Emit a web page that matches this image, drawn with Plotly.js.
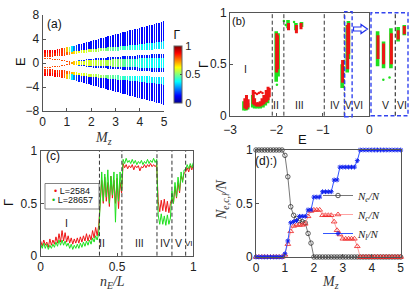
<!DOCTYPE html>
<html><head><meta charset="utf-8">
<script src="https://cdn.plot.ly/plotly-3.0.1.min.js"></script>
<style>html,body{margin:0;padding:0;background:#fff}#plot{width:416px;height:291px}</style>
</head><body><div id="plot"></div>
<script>
// ================= DATA =================
// Panel (a): spectrum vs Mz, band edges and Gamma per column
const Mz = [0,0.1,0.2,0.3,0.4,0.5,0.6,0.7,0.8,0.9,1,1.1,1.2,1.3,1.4,1.5,1.6,1.7,1.8,1.9,2,2.1,2.2,2.3,2.4,2.5,2.6,2.7,2.8,2.9,3,3.1,3.2,3.3,3.4,3.5,3.6,3.7,3.8,3.9,4,4.1,4.2,4.3,4.4,4.5,4.6,4.7,4.8,4.9,5];
const eTop = [2.10,2.11,2.13,2.16,2.20,2.25,2.30,2.37,2.45,2.53,2.62,2.71,2.81,2.91,3.01,3.12,3.22,3.33,3.44,3.55,3.66,3.77,3.88,3.99,4.10,4.21,4.32,4.43,4.54,4.65,4.76,4.87,4.98,5.09,5.20,5.31,5.42,5.53,5.64,5.75,5.86,5.97,6.08,6.19,6.30,6.41,6.52,6.63,6.74,6.85,6.96];
const eSplit = [1.60,1.60,1.61,1.62,1.63,1.65,1.67,1.69,1.71,1.73,1.76,1.82,1.90,1.96,2.01,2.06,2.11,2.16,2.21,2.26,2.31,2.35,2.39,2.43,2.47,2.51,2.55,2.59,2.63,2.67,2.71,2.75,2.79,2.83,2.87,2.91,2.95,2.99,3.03,3.07,3.11,3.16,3.21,3.26,3.31,3.36,3.41,3.46,3.51,3.56,3.61];
const eBot = [1.05,1.05,1.06,1.07,1.08,1.10,1.12,1.15,1.19,1.24,1.30,1.36,1.42,1.48,1.54,1.60,1.65,1.70,1.74,1.77,1.80,1.83,1.86,1.89,1.92,1.95,1.97,1.99,2.01,2.03,2.05,2.07,2.09,2.11,2.13,2.14,2.15,2.16,2.17,2.18,2.20,2.21,2.22,2.23,2.24,2.25,2.26,2.27,2.28,2.29,2.30];
const gOuter = [0.88,0.88,0.88,0.88,0.88,0.88,0.88,0.86,0.83,0.78,0.68,0.52,0.36,0.25,0.19,0.15,0.14,0.13,0.14,0.13,0.14,0.13,0.14,0.13,0.14,0.13,0.14,0.13,0.14,0.13,0.14,0.13,0.14,0.13,0.14,0.13,0.14,0.13,0.14,0.13,0.14,0.13,0.14,0.13,0.14,0.13,0.14,0.13,0.14,0.13,0.14];
const gInner = [0.84,0.84,0.84,0.84,0.84,0.84,0.84,0.83,0.82,0.81,0.78,0.74,0.70,0.66,0.63,0.61,0.60,0.59,0.58,0.58,0.57,0.56,0.55,0.54,0.53,0.52,0.50,0.49,0.48,0.47,0.46,0.45,0.44,0.43,0.42,0.41,0.40,0.39,0.39,0.38,0.38,0.37,0.37,0.36,0.36,0.36,0.35,0.35,0.35,0.35,0.35];
const mHalf = [0,0,0,0,0,0,0,0,0,0,0,0.10,0.20,0.30,0.38,0.45,0.52,0.58,0.63,0.68,0.72,0.75,0.78,0.81,0.84,0.87,0.90,0.93,0.96,0.99,1.02,1.05,1.07,1.10,1.13,1.15,1.18,1.21,1.23,1.26,1.29,1.31,1.34,1.37,1.39,1.42,1.45,1.47,1.50,1.52,1.55];
const mCore = [0,0,0,0,0,0,0,0,0,0,0,0.10,0.20,0.28,0.33,0.36,0.38,0.40,0.42,0.44,0.46,0.47,0.49,0.50,0.52,0.53,0.55,0.56,0.58,0.59,0.61,0.62,0.64,0.65,0.67,0.68,0.70,0.71,0.73,0.74,0.76,0.77,0.79,0.80,0.82,0.83,0.85,0.86,0.88,0.89,0.91];
const gMid = [0,0,0,0,0,0,0,0,0,0,0,0.78,0.72,0.68,0.65,0.63,0.60,0.60,0.59,0.59,0.58,0.58,0.57,0.57,0.56,0.56,0.55,0.55,0.54,0.53,0.52,0.51,0.50,0.48,0.46,0.45,0.44,0.43,0.42,0.41,0.40,0.40,0.39,0.39,0.38,0.38,0.38,0.37,0.37,0.37,0.37];
const gMidEdge = [0,0,0,0,0,0,0,0,0,0,0,0.75,0.60,0.45,0.30,0.22,0.15,0.15,0.15,0.15,0.15,0.15,0.15,0.15,0.15,0.15,0.15,0.15,0.15,0.15,0.15,0.15,0.15,0.15,0.15,0.15,0.15,0.15,0.15,0.15,0.15,0.15,0.15,0.15,0.15,0.15,0.15,0.15,0.15,0.15,0.15];
const thinE = [0.75,0.73,0.71,0.68,0.65,0.61,0.57,0.52,0.46,0.39,0.30,0.20,null,null,null,null,null,null,null,null,null,null,null,null,null,null,null,null,null,null,null,null,null,null,null,null,null,null,null,null,null,null,null,null,null,null,null,null,null,null,null];

// Panel (b): Gamma vs E, vertical clusters (E, low, high)
const bRedE  = [-2.68,-2.645,-2.61,-2.50,-2.47,-2.43,-2.39,-2.35,-2.31,-2.27,-2.22,-2.18,-2.155,-1.995,-1.975,-1.74,-1.57,-1.47,-0.575,-0.465,-0.445];
const bRedLo = [0.07,0.06,0.08,0.11,0.10,0.09,0.09,0.09,0.10,0.11,0.13,0.15,0.18,0.42,0.45,0.83,0.80,0.84,0.32,0.45,0.60];
const bRedHi = [0.17,0.20,0.16,0.25,0.17,0.13,0.13,0.14,0.17,0.20,0.25,0.28,0.27,0.80,0.78,0.90,0.88,0.90,0.54,0.88,0.90];
const bGrnE  = [-2.70,-2.66,-2.62,-2.51,-2.47,-2.41,-2.35,-2.29,-2.24,-2.19,-2.005,-1.965,-1.75,-1.58,-1.46,-0.585,-0.475,-0.45];
const bGrnLo = [0.05,0.05,0.06,0.08,0.07,0.07,0.07,0.08,0.10,0.12,0.33,0.38,0.85,0.83,0.86,0.27,0.42,0.55];
const bGrnHi = [0.14,0.16,0.12,0.20,0.12,0.10,0.11,0.14,0.19,0.23,0.82,0.80,0.93,0.90,0.91,0.50,0.88,0.92];
const bRedDotE = [-2.46,-2.42,-2.38,-2.34,-2.30];
const bRedDotG = [0.22,0.21,0.22,0.23,0.22];
const bGrnDotE = [-1.99,-1.84,-1.80,-1.62];
const bGrnDotG = [0.30,0.92,0.88,0.91];
const bDash = [-2.09,-1.84,-0.97,-0.54];
// inset of (b)
const iRedE  = [-0.496,-0.469,-0.431,-0.398,-0.368];
const iRedLo = [0.55,0.50,0.50,0.74,0.79];
const iRedHi = [0.78,0.70,0.80,0.83,0.87];
const iGrnE  = [-0.498,-0.469,-0.433,-0.398,-0.368];
const iGrnLo = [0.48,0.46,0.46,0.72,0.78];
const iGrnHi = [0.82,0.72,0.85,0.86,0.88];
const iGrnDotE = [-0.47,-0.44];
const iGrnDotG = [0.35,0.37];
const iDash = [-0.412];

// Panel (c): Gamma vs n_E/L
const nE = [0,0.01,0.02,0.03,0.04,0.05,0.06,0.07,0.08,0.09,0.1,0.11,0.12,0.13,0.14,0.15,0.16,0.17,0.18,0.19,0.2,0.21,0.22,0.23,0.24,0.25,0.26,0.27,0.28,0.29,0.3,0.31,0.32,0.33,0.34,0.35,0.36,0.37,0.38,0.39,0.4,0.41,0.42,0.43,0.44,0.45,0.46,0.47,0.48,0.49,0.5,0.51,0.52,0.53,0.54,0.55,0.56,0.57,0.58,0.59,0.6,0.61,0.62,0.63,0.64,0.65,0.66,0.67,0.68,0.69,0.7,0.71,0.72,0.73,0.74,0.75,0.76,0.77,0.78,0.79,0.8,0.81,0.82,0.83,0.84,0.85,0.86,0.87,0.88,0.89,0.9,0.91,0.92,0.93,0.94,0.95,0.96,0.97,0.98,0.99,1];
const cRed = [0.14,0.09,0.15,0.10,0.13,0.08,0.16,0.10,0.15,0.11,
0.18,0.12,0.21,0.13,0.24,0.14,0.22,0.13,0.19,0.12,
0.17,0.11,0.16,0.12,0.17,0.12,0.18,0.13,0.19,0.14,
0.21,0.14,0.20,0.15,0.24,0.17,0.27,0.19,0.29,
0.48,0.72,0.50,0.75,0.52,0.70,0.47,0.76,0.55,0.72,0.50,0.74,0.45,0.70,0.60,
0.88,0.84,0.87,0.83,0.86,0.84,0.87,0.82,0.86,0.84,0.86,0.81,0.85,0.84,0.87,0.84,0.87,0.85,0.88,0.85,0.87,0.85,0.87,
0.52,0.42,0.53,0.43,0.54,0.42,0.52,0.41,0.50,
0.55,0.50,0.66,0.55,0.70,0.60,0.76,0.72,0.79,
0.80,0.84,0.80,0.86,0.82,0.87];
const cGreen = [0.11,0.07,0.12,0.07,0.11,0.06,0.10,0.07,0.11,0.08,
0.13,0.09,0.15,0.10,0.15,0.10,0.14,0.09,0.12,0.07,
0.11,0.06,0.10,0.07,0.11,0.07,0.12,0.08,0.13,0.09,
0.14,0.10,0.15,0.11,0.17,0.13,0.19,0.15,0.21,
0.55,0.80,0.52,0.78,0.56,0.82,0.50,0.76,0.58,0.80,0.32,0.78,0.52,0.80,0.62,
0.92,0.88,0.93,0.89,0.91,0.88,0.92,0.88,0.91,0.87,0.90,0.88,0.91,0.87,0.90,0.88,0.92,0.88,0.91,0.89,0.93,0.89,0.92,
0.39,0.30,0.40,0.30,0.38,0.29,0.39,0.30,0.36,
0.62,0.50,0.70,0.56,0.75,0.62,0.80,0.70,0.82,
0.82,0.87,0.83,0.88,0.84,0.89];
const cDash = [0.385,0.532,0.762,0.86,0.95];

// Panel (d): fractions vs Mz
const Ne = [1,1,1,1,1,1,1,1,1,1,0.95,0.75,0.47,0.39,0.36,0.34,0.33,0.32,0.22,0.13,0,0,0,0,0,0,0,0,0,0,0,0,0,0,0,0,0,0,0,0,0,0,0,0,0,0,0,0,0,0,0];
const Nc = [0,0,0,0,0,0,0,0,0,0,0.02,0.12,0.24,0.29,0.30,0.30,0.30,0.31,0.38,0.43,0.44,0.44,0.44,0.39,0.39,0.39,0.39,0.33,0.25,0.21,0.17,0.17,0.17,0.17,0.17,0.10,0,0,0,0,0,0,0,0,0,0,0,0,0,0,0];
const Nl = [0,0,0,0,0,0,0,0,0,0,0.03,0.15,0.32,0.33,0.34,0.38,0.38,0.38,0.44,0.44,0.56,0.56,0.56,0.61,0.61,0.61,0.61,0.72,0.72,0.84,0.84,0.84,0.84,0.84,0.84,0.90,1,1,1,1,1,1,1,1,1,1,1,1,1,1,1];

// ================= BUILD =================
const W = 416, H = 291;
const px = v => v / W, py = v => 1 - v / H;
const SANS = 'Liberation Sans, Arial, sans-serif';
const SERIF = 'Liberation Serif, Times New Roman, serif';
const jet = [[0,'rgb(0,0,143)'],[0.125,'rgb(0,0,255)'],[0.375,'rgb(0,255,255)'],[0.625,'rgb(255,255,0)'],[0.875,'rgb(255,0,0)'],[1,'rgb(128,0,0)']];

const traces = [];
function bars(base, height, color) {
  traces.push({type:'bar', x:Mz, y:height, base:base, width:0.062, xaxis:'x', yaxis:'y',
    marker:{color:color, coloraxis:'coloraxis', line:{width:0}}, showlegend:false, hoverinfo:'skip'});
}
const hOut = eTop.map((t,i)=>t-eSplit[i]);
const hIn = eSplit.map((s,i)=>s-eBot[i]);
bars(eSplit, hOut, gOuter);
bars(eBot, hIn, gInner);
bars(eTop.map(v=>-v), hOut, gOuter);
bars(eSplit.map(v=>-v), hIn, gInner);
bars(mHalf.map(v=>-v), mHalf.map(v=>2*v), gMidEdge);
bars(mCore.map(v=>-v), mCore.map(v=>2*v), gMid);
const thinG = thinE.map(v=> v===null?null:0.8);
bars(thinE.map(v=> v===null?null:v-0.09), thinE.map(v=> v===null?null:0.18), thinG);
bars(thinE.map(v=> v===null?null:-v-0.09), thinE.map(v=> v===null?null:0.18), thinG);

function segs(E, lo, hi) {
  const x=[], y=[];
  E.forEach((e,i)=>{ x.push(e,e,null); y.push(lo[i],hi[i],null); });
  return {x, y};
}
const GREEN = '#1ee01e', RED = '#ee1515';
function segTrace(s, color, w, xa, ya) {
  traces.push({type:'scatter', mode:'lines', x:s.x, y:s.y, xaxis:xa, yaxis:ya,
    line:{color:color, width:w}, connectgaps:false, showlegend:false, hoverinfo:'skip'});
}
function dotTrace(x, y, color, xa, ya) {
  traces.push({type:'scatter', mode:'markers', x:x, y:y, xaxis:xa, yaxis:ya,
    marker:{color:color, size:2.5}, showlegend:false, hoverinfo:'skip'});
}
segTrace(segs(bGrnE,bGrnLo,bGrnHi), GREEN, 3.6, 'x2','y2');
dotTrace(bGrnDotE, bGrnDotG, GREEN, 'x2','y2');
segTrace(segs(bRedE,bRedLo,bRedHi), RED, 3.0, 'x2','y2');
dotTrace(bRedDotE, bRedDotG, RED, 'x2','y2');
segTrace(segs(iGrnE,iGrnLo,iGrnHi), GREEN, 3.6, 'x3','y3');
dotTrace(iGrnDotE, iGrnDotG, GREEN, 'x3','y3');
segTrace(segs(iRedE,iRedLo,iRedHi), RED, 3.0, 'x3','y3');

traces.push({type:'scatter', mode:'lines', x:nE, y:cRed, xaxis:'x4', yaxis:'y4',
  line:{color:RED, width:1}, showlegend:false, hoverinfo:'skip'});
traces.push({type:'scatter', mode:'lines', x:nE, y:cGreen, xaxis:'x4', yaxis:'y4',
  line:{color:GREEN, width:1}, showlegend:false, hoverinfo:'skip'});

traces.push({type:'scatter', mode:'lines+markers', x:Mz, y:Ne, xaxis:'x5', yaxis:'y5', cliponaxis:false,
  name:'<i>N</i><sub><i>e</i></sub><i>/N</i>',
  line:{color:'#555', width:0.8}, marker:{symbol:'circle-open', size:4.5, color:'#333', line:{width:0.8}}});
traces.push({type:'scatter', mode:'lines+markers', x:Mz, y:Nc, xaxis:'x5', yaxis:'y5', cliponaxis:false,
  name:'<i>N</i><sub><i>c</i></sub><i>/N</i>',
  line:{color:'#ff8a8a', width:0.8}, marker:{symbol:'triangle-up-open', size:5, color:'#ee2222', line:{width:0.8}}});
traces.push({type:'scatter', mode:'lines+markers', x:Mz, y:Nl, xaxis:'x5', yaxis:'y5', cliponaxis:false,
  name:'<i>N</i><sub><i>l</i></sub><i>/N</i>',
  line:{color:'#3355ff', width:1}, marker:{symbol:'asterisk-open', size:4, color:'#1122ee', line:{width:1}}});

const AX = {showline:true, linecolor:'#555', linewidth:1, ticks:'inside', ticklen:3, tickcolor:'#555',
  showgrid:false, zeroline:false, tickfont:{family:SANS, size:12, color:'#222'}, fixedrange:true};

const shapes = [];
bDash.forEach(e=>shapes.push({type:'line', xref:'x2', yref:'y2 domain', x0:e, x1:e, y0:0, y1:1,
  line:{color:'#333', width:1, dash:'4px,2.5px'}}));
iDash.forEach(e=>shapes.push({type:'line', xref:'x3', yref:'y3 domain', x0:e, x1:e, y0:0, y1:1,
  line:{color:'#111', width:1, dash:'4px,2.5px'}}));
cDash.forEach(e=>shapes.push({type:'line', xref:'x4', yref:'y4 domain', x0:e, x1:e, y0:0, y1:1,
  line:{color:'#333', width:1, dash:'4px,2.5px'}}));
shapes.push({type:'rect', xref:'x3 domain', yref:'y3 domain', x0:0, x1:1, y0:0, y1:1,
  line:{color:'#3344ee', width:1.4, dash:'4px,2.5px'}});
shapes.push({type:'rect', xref:'x2', yref:'y2 domain', x0:-0.53, x1:-0.37, y0:-0.01, y1:1.01,
  line:{color:'#3344ee', width:1.4, dash:'4px,2.5px'}});
// hollow arrow
const arrowPts = [[353.5,27],[361,27],[361,24.5],[367.5,29],[361,33.5],[361,31],[353.5,31]];
shapes.push({type:'path', xref:'paper', yref:'paper',
  path: 'M ' + arrowPts.map(p=>px(p[0]).toFixed(4)+','+py(p[1]).toFixed(4)).join(' L ') + ' Z',
  fillcolor:'#fff', line:{color:'#2233ee', width:1.2}});
// legend box for (c)
shapes.push({type:'rect', xref:'paper', yref:'paper', x0:px(45), x1:px(99), y0:py(209), y1:py(183.5),
  fillcolor:'#fff', line:{color:'#666', width:0.8}});

const ann = [];
function A(text, x, y, o) {
  ann.push(Object.assign({text:text, x:px(x), y:py(y), xref:'paper', yref:'paper', showarrow:false,
    xanchor:'center', yanchor:'middle', font:{family:SANS, size:12, color:'#111'}}, o||{}));
}
function D(text, x, y, xr, yr, size) {
  ann.push({text:text, x:x, y:y, xref:xr, yref:yr, showarrow:false, xanchor:'center', yanchor:'middle',
    font:{family:SANS, size:size||10.5, color:'#222'}});
}
A('(a)', 54, 24);
A('(b)', 239, 21, {font:{family:SANS, size:11, color:'#111'}});
A('(c)', 53, 156);
A('(d):)', 266, 161);
A('E', 20, 62, {textangle:-90, font:{family:SANS, size:13, color:'#111'}});
A('<i>M</i><sub><i>z</i></sub>', 103, 138, {font:{family:SERIF, size:14, color:'#333'}});
A('Γ', 203, 65, {textangle:-90, font:{family:SANS, size:13, color:'#111'}});
A('E', 302, 139, {font:{family:SANS, size:13, color:'#111'}});
A('Γ', 8, 203, {textangle:-90, font:{family:SANS, size:13, color:'#111'}});
A('<i>n</i><sub><i>E</i></sub><i>/L</i>', 112, 282, {font:{family:SERIF, size:14, color:'#333'}});
A('<i>N</i><sub><i>e,c,l</i></sub><i>/N</i>', 222, 200, {textangle:-90, font:{family:SERIF, size:14, color:'#333'}});
A('<i>M</i><sub><i>z</i></sub>', 330, 282, {font:{family:SERIF, size:14, color:'#333'}});
A('<span style="color:#ee1515">•</span> L=2584', 72, 190.5, {xanchor:'center', font:{family:SANS, size:9, color:'#111'}});
A('<span style="color:#1ec01e">•</span> L=28657', 72, 200, {xanchor:'center', font:{family:SANS, size:9, color:'#111'}});
D('I', -2.66, 0.45, 'x2','y2');
D('II', -2.0, 0.1, 'x2','y2');
D('III', -1.5, 0.1, 'x2','y2');
D('IV', -0.74, 0.1, 'x2','y2', 10);
D('V,VI', -0.32, 0.1, 'x2','y2', 10);
D('V', -0.46, 0.1, 'x3','y3');
D('VI', -0.378, 0.1, 'x3','y3');
D('I', 0.17, 0.31, 'x4','y4');
D('II', 0.40, 0.12, 'x4','y4');
D('III', 0.65, 0.12, 'x4','y4');
D('IV', 0.812, 0.12, 'x4','y4');
D('V', 0.905, 0.12, 'x4','y4');
D('VI', 0.973, 0.12, 'x4','y4', 8);

const layout = {
  width:W, height:H, margin:{l:0,r:0,t:0,b:0}, paper_bgcolor:'#fff', plot_bgcolor:'rgba(0,0,0,0)',
  barmode:'overlay', bargap:0, showlegend:true,
  coloraxis:{cmin:0, cmax:1, colorscale:jet,
    colorbar:{x:px(174), xanchor:'left', y:py(65), yanchor:'middle', thickness:8, len:76, lenmode:'pixels',
      tickvals:[0,0.5,1], ticktext:['0','0.5','1'], ticks:'inside', ticklen:2, outlinecolor:'#666', outlinewidth:1,
      xpad:0, ypad:0, tickfont:{family:SANS, size:11, color:'#222'},
      title:{text:'Γ', side:'top', font:{family:SANS, size:12, color:'#111'}}}},
  legend:{x:px(318), y:py(181), xanchor:'left', yanchor:'top', bgcolor:'rgba(0,0,0,0)', borderwidth:0,
    font:{family:SERIF, size:11, color:'#222'}, itemwidth:30, tracegroupgap:0},
  xaxis: Object.assign({}, AX, {domain:[px(42.7), px(164)], range:[0,5], tickvals:[0,1,2,3,4,5], anchor:'y', mirror:false}),
  yaxis: Object.assign({}, AX, {domain:[py(111), py(15)], range:[-8,8], tickvals:[-8,-4,0,4,8], anchor:'x', mirror:false}),
  xaxis2: Object.assign({}, AX, {domain:[px(230), px(369.3)], range:[-3,0], tickvals:[-3,-2,-1,0], anchor:'y2', mirror:true, ticklabelstandoff:3}),
  yaxis2: Object.assign({}, AX, {domain:[py(115.7), py(12.7)], range:[0,1], tickvals:[0,0.5,1], ticktext:['0','0.5','1'], anchor:'x2', mirror:true}),
  xaxis3: {domain:[px(371), px(408)], range:[-0.53,-0.35], visible:false, anchor:'y3', fixedrange:true},
  yaxis3: {domain:[py(115.7), py(12.7)], range:[0,1], visible:false, anchor:'x3', fixedrange:true},
  xaxis4: Object.assign({}, AX, {domain:[px(40.7), px(193.3)], range:[0,1], tickvals:[0,0.5,1], ticktext:['0','0.5','1'], anchor:'y4', mirror:true}),
  yaxis4: Object.assign({}, AX, {domain:[py(255.7), py(151)], range:[0,1], tickvals:[0,0.5,1], ticktext:['0','0.5','1'], anchor:'x4', mirror:true}),
  xaxis5: Object.assign({}, AX, {domain:[px(256), px(400.7)], range:[0,5], tickvals:[0,1,2,3,4,5], anchor:'y5', mirror:true}),
  yaxis5: Object.assign({}, AX, {domain:[py(257), py(150)], range:[0,1], tickvals:[0,0.5,1], ticktext:['0','0.5','1'], anchor:'x5', mirror:true}),
  shapes: shapes,
  annotations: ann
};
Plotly.newPlot('plot', traces, layout, {staticPlot:true, displayModeBar:false});
</script>
</body></html>
